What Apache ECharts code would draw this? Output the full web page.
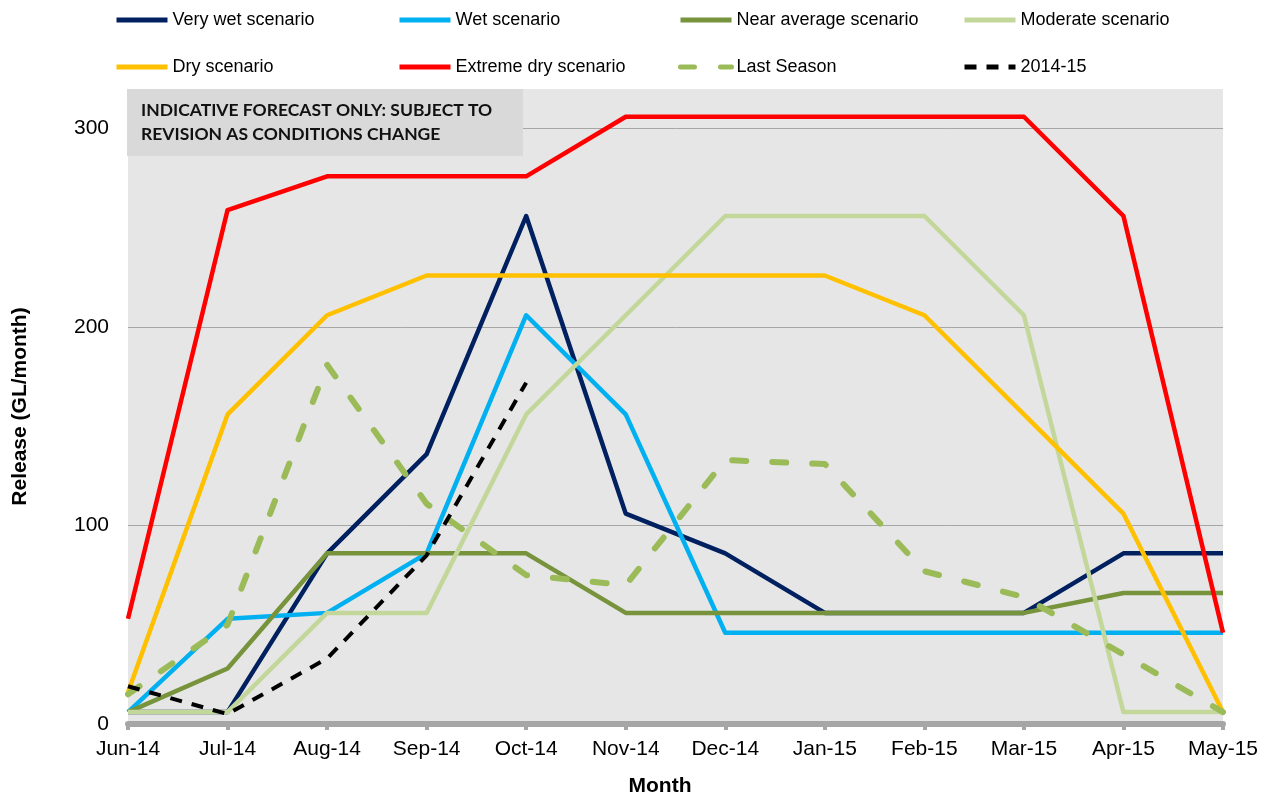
<!DOCTYPE html>
<html>
<head>
<meta charset="utf-8">
<script src="https://cdn.jsdelivr.net/npm/echarts@6/dist/echarts.min.js"></script>
<style>
  html, body { margin: 0; padding: 0; background: #ffffff; }
  #chart { width: 1271px; height: 799px; }
</style>
</head>
<body>
<div id="chart"></div>
<script>
// Monthly release scenarios (GL/month)
const months = ['Jun-14', 'Jul-14', 'Aug-14', 'Sep-14', 'Oct-14', 'Nov-14', 'Dec-14', 'Jan-15', 'Feb-15', 'Mar-15', 'Apr-15', 'May-15'];
const veryWet     = [6, 6, 86, 136, 256, 106, 86, 56, 56, 56, 86, 86];
const wet         = [6, 53, 56, 86, 206, 156, 46, 46, 46, 46, 46, 46];
const nearAverage = [6, 28, 86, 86, 86, 56, 56, 56, 56, 56, 66, 66];
const moderate    = [6, 6, 56, 56, 156, 206, 256, 256, 256, 206, 6, 6];
const dry         = [16, 156, 206, 226, 226, 226, 226, 226, 206, 156, 106, 6];
const extremeDry  = [53, 259, 276, 276, 276, 306, 306, 306, 306, 306, 256, 46];
const lastSeason  = [15, 50, 181, 111, 75, 70, 133, 131, 77, 64, 35, 6];
const season1415  = [19, 5, 33, 85, 172, null, null, null, null, null, null, null];
const yTicks = [0, 100, 200, 300];

const FONT = 'Liberation Sans, Arial, sans-serif';

function lineSeries(name, data, color, width, dash, cap) {
  return {
    name: name,
    type: 'line',
    data: data,
    symbol: 'none',
    showSymbol: false,
    connectNulls: false,
    lineStyle: { color: color, width: width, type: dash || 'solid', cap: cap || 'butt', join: 'round' },
    itemStyle: { color: color }
  };
}

const series = [
  lineSeries('Very wet scenario', veryWet, '#002060', 4.5),
  lineSeries('Wet scenario', wet, '#00b0f0', 4.5),
  lineSeries('Near average scenario', nearAverage, '#77933c', 4.5),
  lineSeries('Moderate scenario', moderate, '#c4d79b', 4.5),
  lineSeries('Dry scenario', dry, '#ffc000', 4.5),
  lineSeries('Extreme dry scenario', extremeDry, '#ff0000', 4.5),
  lineSeries('Last Season', lastSeason, '#9bbb59', 6, [14, 26], 'round'),
  lineSeries('2014-15', season1415, '#000000', 4, [12, 10])
];

function legendColumn(left, names) {
  return {
    orient: 'vertical',
    left: left,
    top: 11,
    padding: 0,
    itemWidth: 51,
    itemHeight: 6,
    itemGap: 29,
    data: names,
    itemStyle: { opacity: 0 },
    lineStyle: { width: 5 },
    textStyle: { fontFamily: FONT, fontSize: 18, color: '#000' }
  };
}

const chart = echarts.init(document.getElementById('chart'));
chart.setOption({
  animation: false,
  backgroundColor: '#ffffff',
  legend: [
    legendColumn(114, ['Very wet scenario', 'Dry scenario']),
    legendColumn(397, ['Wet scenario', 'Extreme dry scenario']),
    legendColumn(678, ['Near average scenario', 'Last Season']),
    legendColumn(962, ['Moderate scenario', '2014-15'])
  ],
  grid: {
    left: 128, right: 48, top: 89, bottom: 75,
    outerBoundsMode: 'none',
    containLabel: false,
    show: true, backgroundColor: '#e6e6e6', borderWidth: 0
  },
  xAxis: {
    type: 'category',
    data: months,
    boundaryGap: false,
    name: 'Month',
    nameLocation: 'middle',
    nameGap: 52,
    nameTextStyle: { fontFamily: FONT, fontSize: 21, fontWeight: 'bold', color: '#000', padding: [0, 31, 0, 0] },
    axisLine: { lineStyle: { color: '#a6a6a6', width: 6 } },
    axisTick: { show: true, length: 6, lineStyle: { color: '#a6a6a6', width: 4 } },
    axisLabel: { fontFamily: FONT, fontSize: 21, color: '#000', margin: 15 },
    splitLine: { show: false }
  },
  yAxis: {
    type: 'value',
    min: yTicks[0],
    max: 320,
    interval: yTicks[1] - yTicks[0],
    name: 'Release (GL/month)',
    nameLocation: 'middle',
    nameGap: 97,
    nameTextStyle: { fontFamily: FONT, fontSize: 21, fontWeight: 'bold', color: '#000' },
    axisLine: { show: false },
    axisTick: { show: false },
    axisLabel: {
      fontFamily: FONT, fontSize: 21, color: '#000', margin: 19,
      showMaxLabel: false,
      formatter: function (v) { return yTicks.indexOf(v) >= 0 ? String(v) : ''; }
    },
    splitLine: { show: true, showMinLine: false, showMaxLine: false, lineStyle: { color: '#a6a6a6', width: 1 } }
  },
  graphic: [
    {
      type: 'group',
      left: 127, top: 89,
      z: 100,
      children: [
        { type: 'rect', z: 100, shape: { x: 0, y: 0, width: 396, height: 67 }, style: { fill: '#d9d9d9' } },
        {
          type: 'text', z: 101, x: 14, y: 9,
          style: {
            text: 'INDICATIVE FORECAST ONLY: SUBJECT TO\nREVISION AS CONDITIONS CHANGE',
            font: 'bold 17.5px Lato, "Open Sans", sans-serif',
            lineHeight: 24,
            fill: '#111'
          }
        }
      ]
    }
  ],
  series: series
});
</script>
</body>
</html>
